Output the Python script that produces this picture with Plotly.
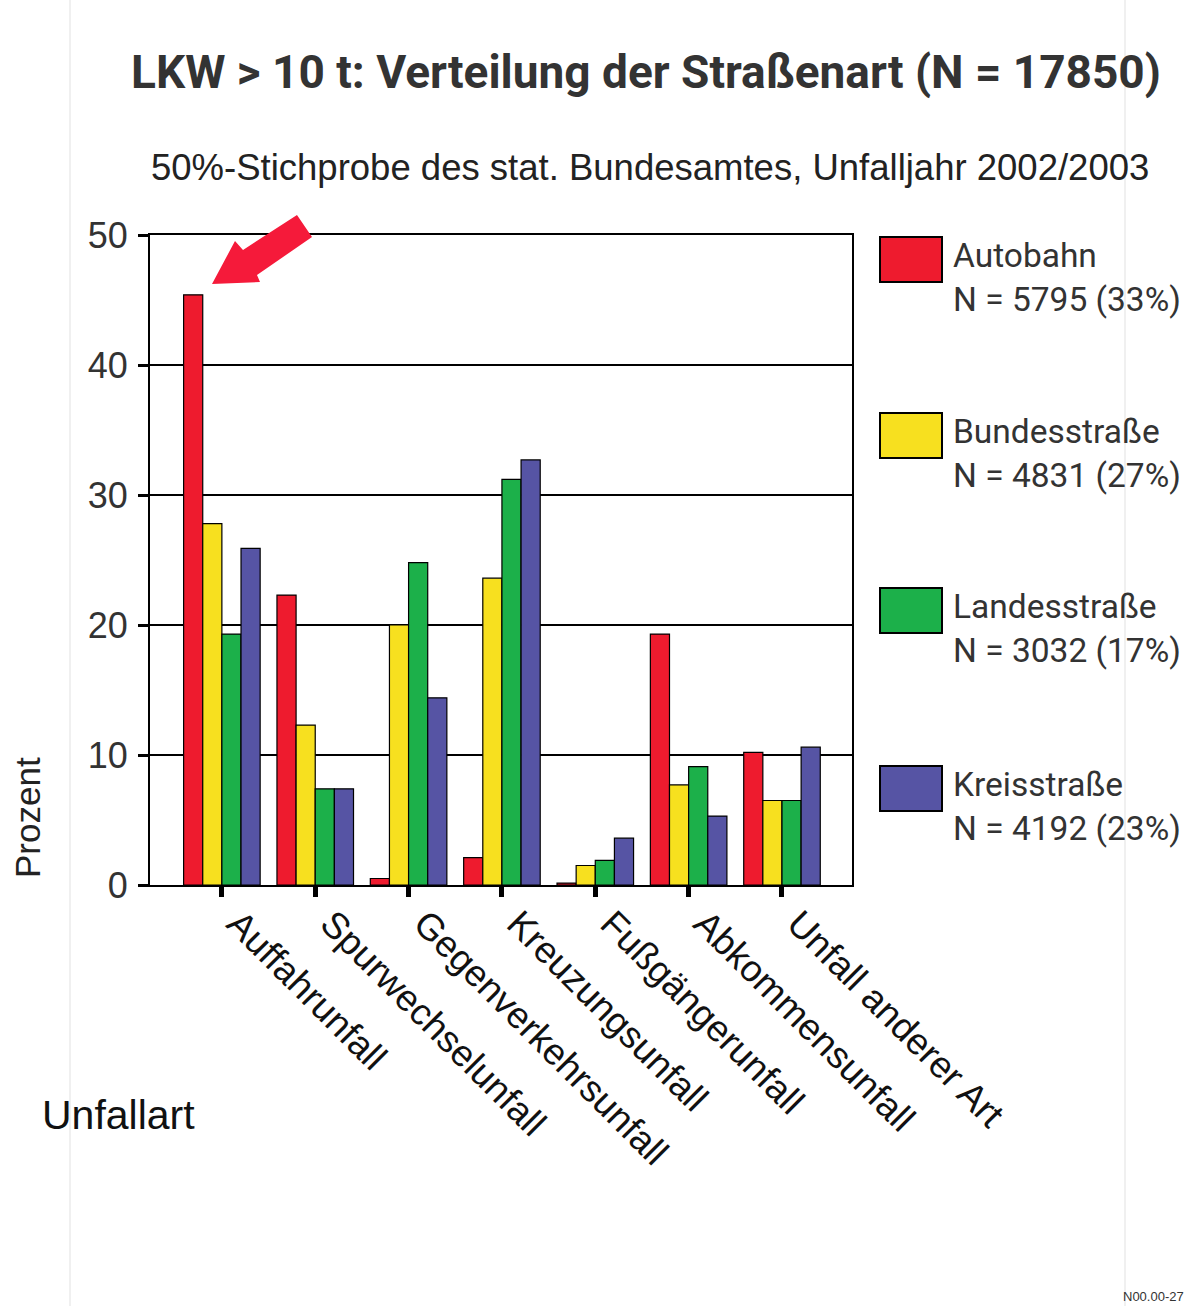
import plotly.graph_objects as go

categories = ["Auffahrunfall", "Spurwechselunfall", "Gegenverkehrsunfall", "Kreuzungsunfall",
              "Fußgängerunfall", "Abkommensunfall", "Unfall anderer Art"]
series_names = ["Autobahn", "Bundesstraße", "Landesstraße", "Kreisstraße"]
series_counts = ["N = 5795 (33%)", "N = 4831 (27%)", "N = 3032 (17%)", "N = 4192 (23%)"]
autobahn = [45.4, 22.3, 0.5, 2.1, 0.15, 19.3, 10.2]
bundesstrasse = [27.8, 12.3, 20.0, 23.6, 1.5, 7.7, 6.5]
landesstrasse = [19.3, 7.4, 24.8, 31.2, 1.9, 9.1, 6.5]
kreisstrasse = [25.9, 7.4, 14.4, 32.7, 3.6, 5.3, 10.6]
colors = ["#EE1B2E", "#F7E01F", "#1CB04A", "#5654A4"]
y_ticks = [0, 10, 20, 30, 40, 50]

values = [autobahn, bundesstrasse, landesstrasse, kreisstrasse]

W, H = 1190, 1306
L, R, T, B = 150, 852, 235, 885

fig = go.Figure()
for name, vals, col in zip(series_names, values, colors):
    fig.add_trace(go.Bar(x=categories, y=vals, name=name, marker_color=col,
                         marker_line=dict(color="black", width=1.2), showlegend=False))

def px(x):
    return (x - L) / (R - L)

def py(y):
    return (B - y) / (B - T)

shapes = []
annotations = []
# legend
box_tops = [237, 413, 588, 766]
for i, (name, cnt, col) in enumerate(zip(series_names, series_counts, colors)):
    t = box_tops[i]
    shapes.append(dict(type="rect", xref="paper", yref="paper", x0=px(880), x1=px(942),
                       y0=py(t + 45), y1=py(t), fillcolor=col,
                       line=dict(color="black", width=2)))
    annotations.append(dict(text=name, xref="paper", yref="paper", x=px(951), y=py(t + 18),
                            xanchor="left", yanchor="middle", showarrow=False,
                            font=dict(size=33.5, color="#333", family="Roboto")))
    annotations.append(dict(text=cnt, xref="paper", yref="paper", x=px(951), y=py(t + 62),
                            xanchor="left", yanchor="middle", showarrow=False,
                            font=dict(size=33.5, color="#333", family="Roboto")))

# faint background lines
for xv in [70, 1125]:
    shapes.append(dict(type="line", xref="paper", yref="paper", x0=px(xv), x1=px(xv),
                       y0=py(0), y1=py(H), line=dict(color="#f0f0f0", width=2), layer="below"))

# arrow (decorative polygon)
arrow_pts = [(212, 284), (235, 241), (243, 250), (297, 215), (312, 237), (257, 275), (260, 282)]
path = "M " + " L ".join(f"{px(a):.5f},{py(b):.5f}" for a, b in arrow_pts) + " Z"
shapes.append(dict(type="path", xref="paper", yref="paper", path=path,
                   fillcolor="#F51A3A", line=dict(width=0)))

annotations += [
    dict(text="<b>LKW > 10 t: Verteilung der Straßenart (N = 17850)</b>", xref="paper", yref="paper",
         x=px(646), y=py(72), xanchor="center", yanchor="middle", showarrow=False,
         font=dict(size=46, color="#333", family="Roboto")),
    dict(text="50%-Stichprobe des stat. Bundesamtes, Unfalljahr 2002/2003", xref="paper", yref="paper",
         x=px(650), y=py(167), xanchor="center", yanchor="middle", showarrow=False,
         font=dict(size=36.5, color="#222", family="Liberation Sans")),
    dict(text="Prozent", xref="paper", yref="paper", x=px(27), y=py(818), textangle=-90,
         xanchor="center", yanchor="middle", showarrow=False,
         font=dict(size=35, color="#222", family="Liberation Sans")),
    dict(text="Unfallart", xref="paper", yref="paper", x=px(40), y=py(1115),
         xanchor="left", yanchor="middle", showarrow=False,
         font=dict(size=41, color="#111", family="Liberation Sans")),
    dict(text="N00.00-27", xref="paper", yref="paper", x=px(1186), y=py(1296),
         xanchor="right", yanchor="middle", showarrow=False,
         font=dict(size=13, color="#333", family="Liberation Sans")),
]

fig.update_layout(
    width=W, height=H, margin=dict(l=L, r=W - R, t=T, b=H - B),
    paper_bgcolor="white", plot_bgcolor="white",
    barmode="group", bargap=0.18, bargroupgap=0,
    shapes=shapes, annotations=annotations,
)
fig.update_xaxes(range=[-0.77, 6.75], showline=True, linecolor="black", linewidth=2, mirror=True,
                 ticks="outside", ticklen=10, tickwidth=5, tickcolor="black", tickangle=45,
                 ticklabelshift=16, ticklabelstandoff=-10,
                 tickfont=dict(size=37, color="#111", family="Liberation Sans"), showgrid=False)
fig.update_yaxes(range=[0, 50], tickvals=y_ticks, showline=True, linecolor="black", linewidth=2,
                 mirror=True, ticks="outside", ticklen=10, tickwidth=3, tickcolor="black",
                 ticklabelstandoff=3,
                 showgrid=True, gridcolor="black", gridwidth=1.5, zeroline=False,
                 tickfont=dict(size=36, color="#333", family="Liberation Sans"))

fig.write_html("out.html", config={"displayModeBar": False},
               post_script="document.body.style.margin='0';")
